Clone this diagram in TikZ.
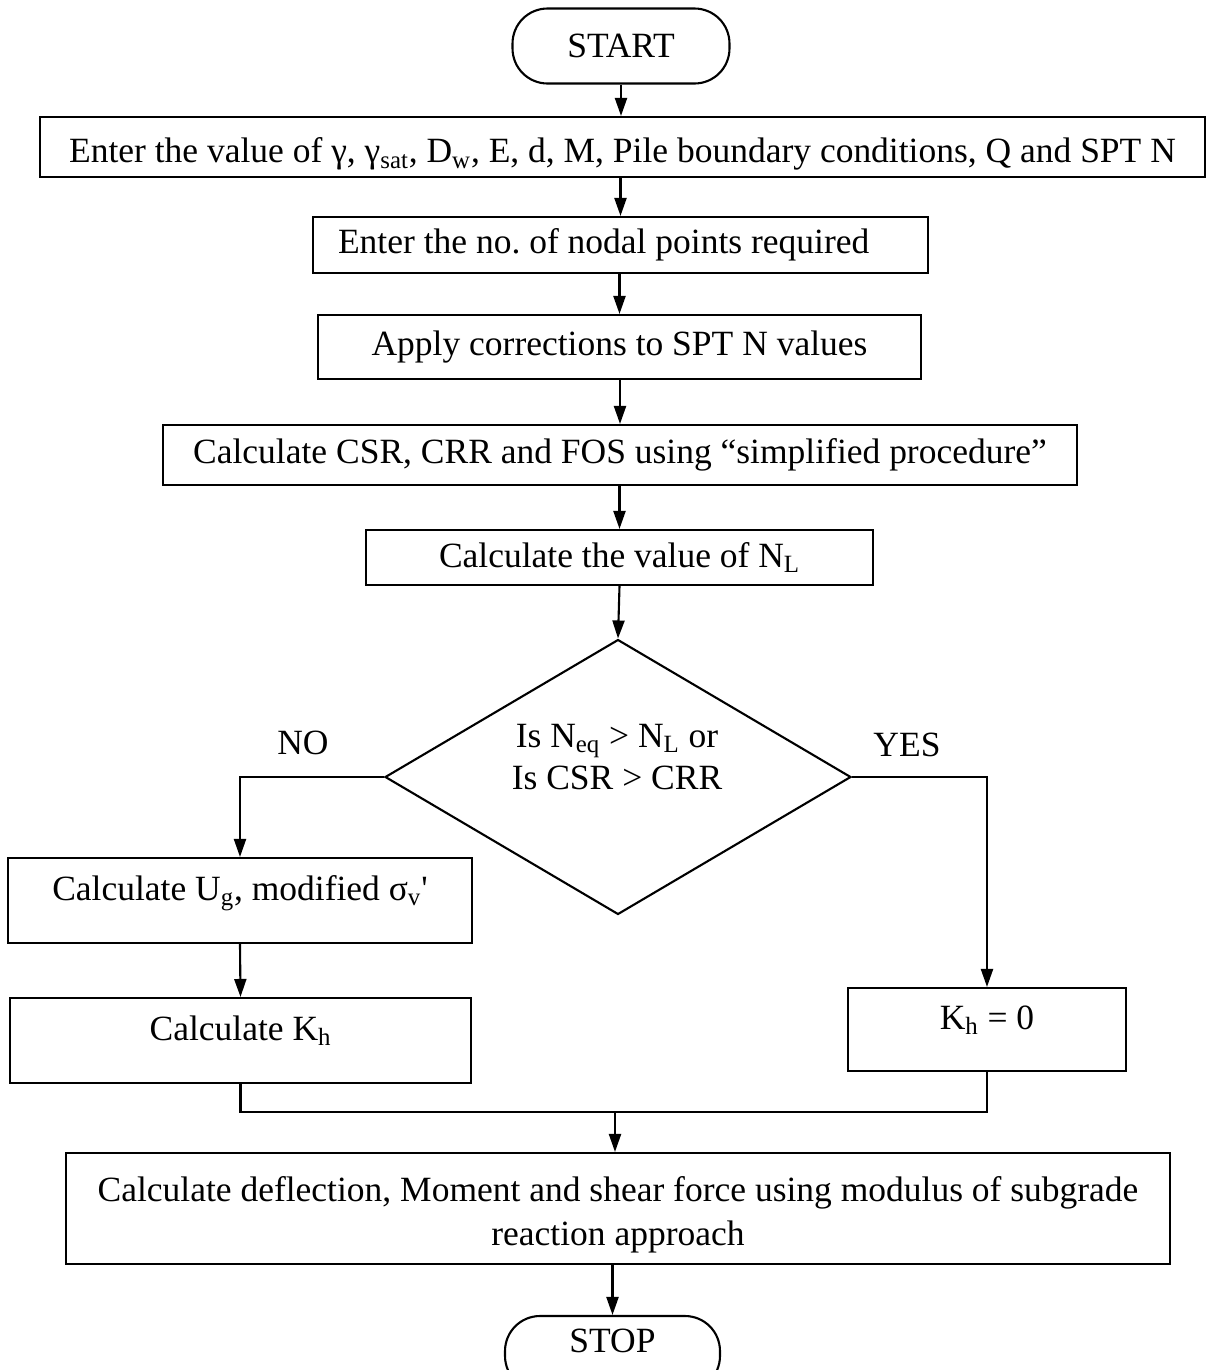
\documentclass[tikz,border=0pt]{standalone}
\usepackage{fontspec}
\setmainfont{Liberation Serif}
\newfontfamily\rawserif{Liberation Serif}
\usetikzlibrary{arrows.meta,shapes.geometric}
\begin{document}
\begin{tikzpicture}[x=0.02cm,y=-0.02cm,
  font=\fontsize{20.2}{24}\selectfont,
  box/.style={draw, line width=1.2pt, inner sep=0pt, align=center},
  term/.style={box, rounded corners=0.7cm},
  hi/.style={text height=0.6em, text depth=0.6em},
  arr/.style={line width=1.2pt, -{Triangle[length=0.36cm,width=0.24cm]}},
  conn/.style={line width=1.2pt},
  lbl/.style={inner sep=0pt}]
\useasboundingbox (0,0) rectangle (1210,1370);
% nodes
\node[term, minimum width=4.34cm, minimum height=1.5cm] (start) at (621,46) {START};
\node[box, minimum width=23.3cm, minimum height=1.2cm] (b1) at (622.5,147)
  {\rule{0pt}{1.1em}Enter the value of γ, γ\textsubscript{sat}, D\textsubscript{w}, E, d, M, Pile boundary conditions, Q and SPT N};
\node[box, minimum width=12.3cm, minimum height=1.12cm] (b2) at (620.5,245)
  {\makebox[11.3cm][l]{Enter the no.\ of nodal points required}};
\node[box, minimum width=12.06cm, minimum height=1.28cm] (b3) at (619.5,347)
  {Apply corrections to SPT N values};
\node[box, minimum width=18.28cm, minimum height=1.2cm] (b4) at (620,455)
  {Calculate CSR, CRR and FOS using “simplified procedure”};
\node[box, minimum width=10.14cm, minimum height=1.1cm] (b5) at (619.5,557.5)
  {Calculate the value of N\textsubscript{L}};
\node[diamond, draw, line width=1.2pt, inner sep=0pt, minimum width=9.32cm, minimum height=5.5cm] (d) at (618,777) {};
\node[lbl, align=center] (dtext) at (617,757)
  {Is N\textsubscript{eq} > N\textsubscript{L} or\\Is CSR > CRR};
\node[lbl] (no) at (303,743) {NO};
\node[lbl] (yes) at (907,745) {YES};
\node[box, hi, minimum width=9.28cm, minimum height=1.7cm] (b6) at (240,900.5)
  {Calculate U\textsubscript{g}, modified σ\textsubscript{v}{\rawserif'}};
\node[box, hi, minimum width=9.22cm, minimum height=1.7cm] (b7) at (240.5,1040.5)
  {Calculate K\textsubscript{h}};
\node[box, hi, minimum width=5.56cm, minimum height=1.66cm] (b8) at (987,1029.5)
  {K\textsubscript{h} = 0};
\node[box, minimum width=22.08cm, minimum height=2.22cm, font=\fontsize{20.2}{25}\selectfont] (b9) at (618,1208.5)
  {\rule{0pt}{1.05em}Calculate deflection, Moment and shear force using modulus of subgrade\\reaction approach};
\node[term, text height=0.6em, text depth=0.75em, minimum width=4.3cm, minimum height=1.5cm] (stop) at (612.5,1353.5) {STOP};
\coordinate (j) at (615,1112);
% connectors
\draw[arr] (start.south) -- (start.south |- b1.north);
\draw[arr] (b2.north |- b1.south) -- (b2.north);
\draw[arr] (b3.north |- b2.south) -- (b3.north);
\draw[arr] (b4.north |- b3.south) -- (b4.north);
\draw[arr] (b5.north |- b4.south) -- (b5.north);
\draw[arr] (b5.south) -- (d.north);
\draw[arr] (d.west) -| (b6.north);
\draw[arr] (d.east) -| (b8.north);
\draw[arr] (b6.south) -- (b7.north);
\draw[conn] (b7.south) |- (j) -| (b8.south);
\draw[arr] (j) -- (j |- b9.north);
\draw[arr] (stop.north |- b9.south) -- (stop.north);
\end{tikzpicture}
\end{document}
